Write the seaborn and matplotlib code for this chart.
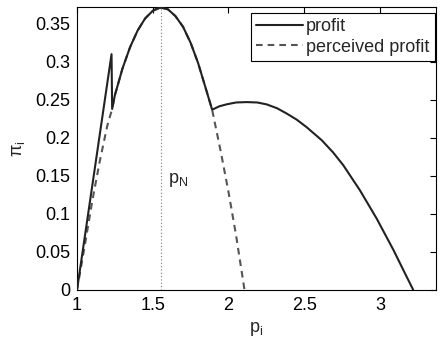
import matplotlib
matplotlib.use("Agg")
import matplotlib.pyplot as plt
import seaborn as sns
import pandas as pd
from matplotlib.lines import Line2D

# ---- data ----
profit_x = [1.0, 1.228, 1.232, 1.25, 1.30, 1.35, 1.40, 1.45, 1.50, 1.525, 1.556, 1.58, 1.60, 1.65,
            1.70, 1.75, 1.80, 1.85, 1.892, 1.94, 1.987, 2.05, 2.12, 2.19, 2.252,
            2.32, 2.384, 2.45, 2.516, 2.615, 2.69, 2.758, 2.868, 2.978, 3.088, 3.16, 3.22]
profit_y = [0.0, 0.310, 0.238, 0.256, 0.291, 0.319, 0.341, 0.357, 0.367, 0.370, 0.371, 0.370, 0.369, 0.360,
            0.346, 0.325, 0.298, 0.265, 0.237, 0.2415, 0.244, 0.2465, 0.247, 0.2465, 0.244,
            0.239, 0.232, 0.224, 0.214, 0.197, 0.181, 0.164, 0.131, 0.094, 0.053, 0.024, 0.0]

perceived_x = [1.0, 1.05, 1.10, 1.15, 1.20, 1.232, 1.25, 1.30, 1.35, 1.40, 1.45, 1.50, 1.556,
               1.60, 1.65, 1.70, 1.75, 1.80, 1.85, 1.892, 1.95, 2.00, 2.05, 2.106]
perceived_y = [0.0, 0.057, 0.116, 0.169, 0.216, 0.238, 0.256, 0.291, 0.319, 0.341, 0.357, 0.367, 0.371,
               0.369, 0.360, 0.346, 0.325, 0.298, 0.265, 0.237, 0.181, 0.129, 0.072, 0.0]

p_N = 1.556
x_ticks = [1, 1.5, 2, 2.5, 3]
x_tick_labels = ["1", "1.5", "2", "2.5", "3"]
y_ticks = [0, 0.05, 0.1, 0.15, 0.2, 0.25, 0.3, 0.35]
y_tick_labels = ["0", "0.05", "0.1", "0.15", "0.2", "0.25", "0.3", "0.35"]
series_names = ["profit", "perceived profit"]

sns.set_style("white")
plt.rcParams["font.family"] = ["Liberation Sans", "DejaVu Sans"]
plt.rcParams["mathtext.default"] = "regular"

df_profit = pd.DataFrame({"p": profit_x, "pi": profit_y})
df_perc = pd.DataFrame({"p": perceived_x, "pi": perceived_y})

fig = plt.figure(figsize=(4.44, 3.45), dpi=100)
ax_w = (436 - 77)
ax_h = (290 - 7)
ax = fig.add_axes([77 / 444, 1 - 290 / 345, ax_w / 444, ax_h / 345])

solid_c = "#222222"
dash_c = "#555555"

ax.axvline(p_N, color="#777777", lw=0.8, ls=(0, (1, 2)), zorder=1)
sns.lineplot(data=df_perc, x="p", y="pi", sort=False, estimator=None, ax=ax,
             color=dash_c, lw=1.5, zorder=2)
ax.lines[-1].set_dashes((3.2, 2.4))
sns.lineplot(data=df_profit, x="p", y="pi", sort=False, estimator=None, ax=ax,
             color=solid_c, lw=1.5, zorder=3)

ax.text(1.6, 0.144, r"$p_N$", fontsize=13, ha="left", va="center")

ax.set_xlim(1, 3.37)
ax.set_ylim(0, 0.372)
ax.set_xticks(x_ticks)
ax.set_xticklabels(x_tick_labels)
ax.set_yticks(y_ticks)
ax.set_yticklabels(y_tick_labels)
ax.tick_params(direction="in", length=4, width=0.8, top=True, right=True,
               labelsize=13, colors="black", pad=5)
for s in ax.spines.values():
    s.set_visible(True)
    s.set_color("black")
    s.set_linewidth(0.8)

ax.set_xlabel(r"$p_i$", fontsize=13, labelpad=4)
ax.set_ylabel(r"$\pi_i$", fontsize=13, labelpad=6)

handles = [Line2D([], [], color=solid_c, lw=1.5),
           Line2D([], [], color=dash_c, lw=1.5, dashes=(3.2, 2.4))]
leg = ax.legend(handles, series_names, loc="upper right", fontsize=13, frameon=True,
                fancybox=False, edgecolor="black", borderpad=0.3, labelspacing=0.2,
                handlelength=2.6, handletextpad=0.15, borderaxespad=0,
                bbox_to_anchor=(1 - 1.5 / ax_w, 1 - 5.7 / ax_h))
leg.get_frame().set_linewidth(0.8)
leg.get_frame().set_alpha(1)

fig.savefig("out.png", dpi=100)
